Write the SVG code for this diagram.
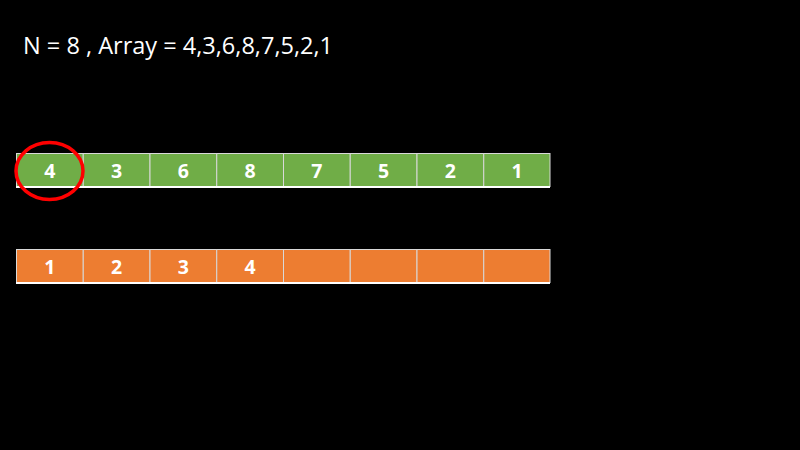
<svg xmlns="http://www.w3.org/2000/svg" width="800" height="450" viewBox="0 0 800 450">
<style>
.g{fill:#70ad47;stroke:#d9d9d9;stroke-width:1}
.o{fill:#ed7d31;stroke:#d9d9d9;stroke-width:1}
.t{font-family:"Open Sans","Liberation Sans",sans-serif;font-weight:bold;font-size:19.5px;fill:#fff;text-anchor:middle}
.base{stroke:#fff;stroke-width:2}
</style>
<rect width="800" height="450" fill="#000"/>
<text x="23" y="54" font-family="Open Sans, Liberation Sans, sans-serif" font-size="23.5" fill="#fff" textLength="310" lengthAdjust="spacingAndGlyphs">N = 8 , Array = 4,3,6,8,7,5,2,1</text>
<g id="row1">
<rect class="g" x="16.5" y="153.5" width="66.75" height="33"/>
<rect class="g" x="83.25" y="153.5" width="66.75" height="33"/>
<rect class="g" x="150" y="153.5" width="66.75" height="33"/>
<rect class="g" x="216.75" y="153.5" width="66.75" height="33"/>
<rect class="g" x="283.5" y="153.5" width="66.75" height="33"/>
<rect class="g" x="350.25" y="153.5" width="66.75" height="33"/>
<rect class="g" x="417" y="153.5" width="66.75" height="33"/>
<rect class="g" x="483.75" y="153.5" width="66.25" height="33"/>
<line class="base" x1="16" y1="187" x2="550" y2="187"/>
<text class="t" x="49.9" y="178">4</text>
<text class="t" x="116.6" y="178">3</text>
<text class="t" x="183.4" y="178">6</text>
<text class="t" x="250.1" y="178">8</text>
<text class="t" x="316.9" y="178">7</text>
<text class="t" x="383.6" y="178">5</text>
<text class="t" x="450.4" y="178">2</text>
<text class="t" x="517" y="178">1</text>
</g>
<g id="row2">
<rect class="o" x="16.5" y="249.5" width="66.75" height="33"/>
<rect class="o" x="83.25" y="249.5" width="66.75" height="33"/>
<rect class="o" x="150" y="249.5" width="66.75" height="33"/>
<rect class="o" x="216.75" y="249.5" width="66.75" height="33"/>
<rect class="o" x="283.5" y="249.5" width="66.75" height="33"/>
<rect class="o" x="350.25" y="249.5" width="66.75" height="33"/>
<rect class="o" x="417" y="249.5" width="66.75" height="33"/>
<rect class="o" x="483.75" y="249.5" width="66.25" height="33"/>
<line class="base" x1="16" y1="283" x2="550" y2="283"/>
<text class="t" x="49.9" y="274">1</text>
<text class="t" x="116.6" y="274">2</text>
<text class="t" x="183.4" y="274">3</text>
<text class="t" x="250.1" y="274">4</text>
</g>
<g id="marker">
<ellipse cx="49.5" cy="171" rx="33.5" ry="28.5" fill="none" stroke="#ff0000" stroke-width="3.5"/>
</g>
</svg>
